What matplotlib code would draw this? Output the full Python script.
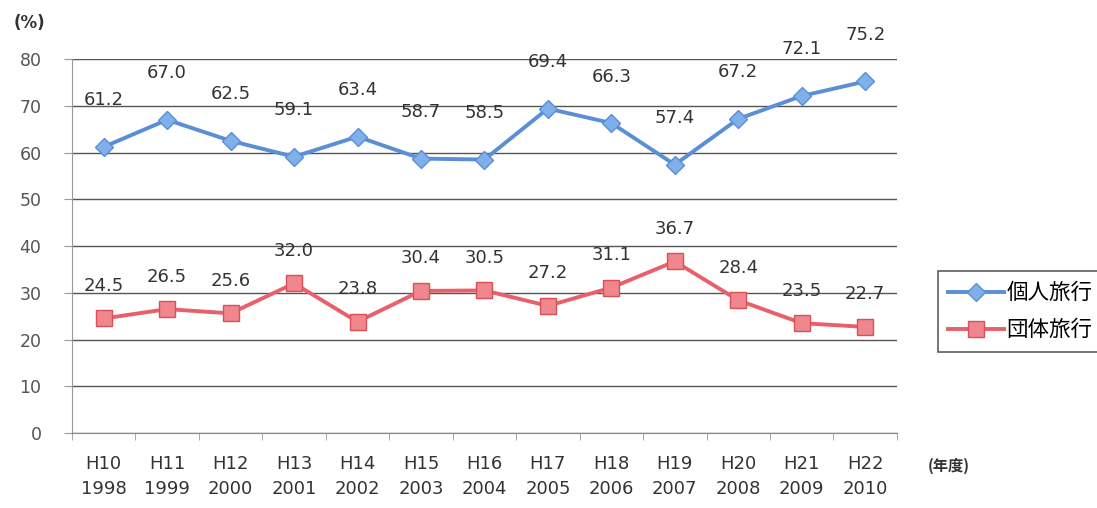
import matplotlib
matplotlib.use("Agg")
import matplotlib.pyplot as plt

plt.rcParams['font.family'] = ['DejaVu Sans', 'Noto Sans CJK JP']

eras = ["H10", "H11", "H12", "H13", "H14", "H15", "H16", "H17", "H18", "H19", "H20", "H21", "H22"]
years = ["1998", "1999", "2000", "2001", "2002", "2003", "2004", "2005", "2006", "2007", "2008", "2009", "2010"]
individual = [61.2, 67.0, 62.5, 59.1, 63.4, 58.7, 58.5, 69.4, 66.3, 57.4, 67.2, 72.1, 75.2]
group = [24.5, 26.5, 25.6, 32.0, 23.8, 30.4, 30.5, 27.2, 31.1, 36.7, 28.4, 23.5, 22.7]
labels = ["個人旅行", "団体旅行"]

fig = plt.figure(figsize=(10.97, 5.08), dpi=100)
ax = fig.add_axes([0.0656, 0.1476, 0.752, 0.7362])

x = list(range(len(eras)))
ax.plot(x, individual, color="#5a8ed6", lw=2.8, marker="D", ms=9,
        mfc="#7fb0ea", mec="#5a8ed6", mew=1, label=labels[0], zorder=3)
ax.plot(x, group, color="#e8606a", lw=2.8, marker="s", ms=12,
        mfc="#f0868e", mec="#d85058", mew=1, label=labels[1], zorder=3)

for xi, v in zip(x, individual):
    ax.annotate(f"{v:.1f}", (xi, v), xytext=(0, 27), textcoords="offset points",
                ha="center", va="bottom", fontsize=13, color="#333333")
for xi, v in zip(x, group):
    ax.annotate(f"{v:.1f}", (xi, v), xytext=(0, 17), textcoords="offset points",
                ha="center", va="bottom", fontsize=13, color="#333333")

ax.set_xlim(-0.5, len(eras) - 0.5)
ax.set_ylim(0, 80)
ax.set_yticks(range(0, 81, 10))
ax.yaxis.grid(True, color="#555555", lw=1)
ax.set_axisbelow(True)
for s in ["top", "right"]:
    ax.spines[s].set_visible(False)
ax.spines["left"].set_color("#999999")
ax.spines["bottom"].set_color("#888888")
ax.tick_params(axis="y", length=6, color="#999999", labelsize=12.5, labelcolor="#555555", pad=16)

# category boundary ticks (Excel style)
ax.set_xticks([i + 0.5 for i in range(-1, len(eras))], minor=True)
ax.tick_params(axis="x", which="minor", length=5, color="#999999")
ax.set_xticks(x)
ax.set_xticklabels([f"{e}\n{y}" for e, y in zip(eras, years)], fontsize=13,
                   color="#333333", linespacing=1.45)
ax.tick_params(axis="x", which="major", length=0, pad=16)

fig.text(0.012, 0.945, "(%)", fontsize=12, fontweight="bold", color="#333333")
fig.text(0.846, 0.074, "(年度)", fontsize=11, fontweight="bold", color="#333333",
         family=["Noto Sans CJK JP", "DejaVu Sans"])

leg = fig.legend(loc="upper left", bbox_to_anchor=(0.845, 0.487),
                 prop={"family": ["Noto Sans CJK JP"], "size": 15.5},
                 frameon=True, fancybox=False, edgecolor="#333333",
                 handlelength=2.6, borderpad=0.5, labelspacing=0.7, handletextpad=0.1)
leg.get_frame().set_linewidth(1.2)

fig.savefig("out.png", dpi=100)
